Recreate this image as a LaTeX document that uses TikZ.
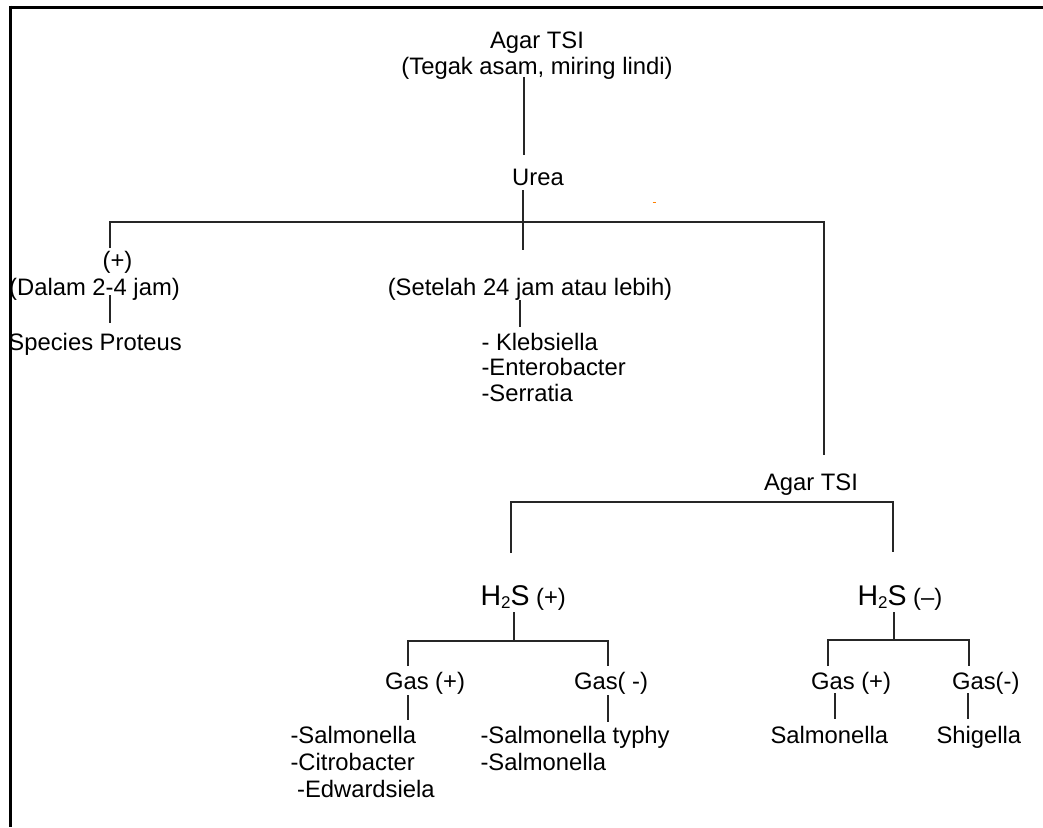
\documentclass[tikz,border=0pt]{standalone}
\usepackage{fontspec}
\setmainfont{Liberation Sans}
\newcommand{\HtwoS}{{\fontsize{28.5}{30}\selectfont H\raisebox{-3.5pt}{\fontsize{17}{17}\selectfont 2}S}}
\begin{document}
\begin{tikzpicture}[x=1pt,y=-1pt,
  txt/.style={inner sep=0pt,outer sep=0pt,font=\fontsize{23.8}{28}\selectfont},
  cl/.style={txt,anchor=base},
  ll/.style={txt,anchor=base west},
  conn/.style={line width=1.2pt,black!85},
  frame/.style={line width=3pt,black}]
\useasboundingbox (0,0) rectangle (1043,827);
% frame
\coordinate (f1) at (9,7);
\coordinate (f2) at (1043,7);
\coordinate (f3) at (10,5.5);
\coordinate (f4) at (10,827);
\draw[frame] (f1) -- (f2);
\draw[frame] (f3) -- (f4);
% texts
\node[cl] (top1) at (537,48) {Agar TSI};
\node[cl] (top2) at (537,74) {(Tegak asam, miring lindi)};
\node[cl] (urea) at (538,185) {Urea};
\node[cl] (plus) at (117.5,268) {(+)};
\node[cl] (dalam) at (94.5,295) {(Dalam 2-4 jam)};
\node[cl] (setelah) at (530,295) {(Setelah 24 jam atau lebih)};
\node[ll] (proteus) at (8.5,350) {Species Proteus};
\node[ll] (kleb) at (481.5,350) {- Klebsiella};
\node[ll] (entero) at (481.5,375) {-Enterobacter};
\node[ll] (serr) at (481.5,401) {-Serratia};
\node[cl] (tsi2) at (811,490) {Agar TSI};
\node[ll] (hsp) at (480.5,605) {\HtwoS\ (+)};
\node[ll] (hsm) at (857.5,605) {\HtwoS\ (--)};
\node[ll] (gp1) at (385,689) {Gas (+)};
\node[ll] (gm1) at (574,689) {Gas( -)};
\node[ll] (gp2) at (811,689) {Gas (+)};
\node[ll] (gm2) at (952,689) {Gas(-)};
\node[ll] (l1a) at (290.5,743) {-Salmonella};
\node[ll] (l1b) at (290.5,770) {-Citrobacter};
\node[ll] (l1c) at (290.5,797) {\ -Edwardsiela};
\node[ll] (l2a) at (480.5,743) {-Salmonella typhy};
\node[ll] (l2b) at (480.5,770) {-Salmonella};
\node[ll] (l3) at (770.5,743) {Salmonella};
\node[ll] (l4) at (936.5,743) {Shigella};
% connector points
\coordinate (a1) at (524,77);   \coordinate (a2) at (524,155);
\coordinate (u1) at (523,190);  \coordinate (u2) at (523,250);
\coordinate (hL) at (110,222);  \coordinate (hR) at (824,222);
\coordinate (pl) at (110,248);
\coordinate (d1) at (110,295);  \coordinate (d2) at (110,323);
\coordinate (s1) at (520,300);  \coordinate (s2) at (520,327);
\coordinate (r2) at (824,455);
\coordinate (tL) at (511,502);  \coordinate (tR) at (893,502);
\coordinate (tL2) at (511,553); \coordinate (tR2) at (893,552);
\coordinate (p1) at (514,612);  \coordinate (p2) at (514,641);
\coordinate (pL) at (408,641);  \coordinate (pR) at (608,641);
\coordinate (pL2) at (408,666); \coordinate (pR2) at (608,666);
\coordinate (g1) at (408,695);  \coordinate (g2) at (408,720);
\coordinate (g3) at (608,695);  \coordinate (g4) at (608,722);
\coordinate (m1) at (894,612);  \coordinate (m2) at (894,640);
\coordinate (mL) at (828,640);  \coordinate (mR) at (969,640);
\coordinate (mL2) at (828,666); \coordinate (mR2) at (969,666);
\coordinate (k1) at (835,693);  \coordinate (k2) at (835,719);
\coordinate (k3) at (968,693);  \coordinate (k4) at (968,719);
% connectors
\draw[conn] (a1) -- (a2);
\draw[conn] (u1) -- (u2);
\draw[conn] (pl) -- (hL) -- (hR) -- (r2);
\draw[conn] (d1) -- (d2);
\draw[conn] (s1) -- (s2);
\draw[conn] (tL2) -- (tL) -- (tR) -- (tR2);
\draw[conn] (p1) -- (p2);
\draw[conn] (pL2) -- (pL) -- (pR) -- (pR2);
\draw[conn] (g1) -- (g2);
\draw[conn] (g3) -- (g4);
\draw[conn] (m1) -- (m2);
\draw[conn] (mL2) -- (mL) -- (mR) -- (mR2);
\draw[conn] (k1) -- (k2);
\draw[conn] (k3) -- (k4);
% stray orange mark
\coordinate (o1) at (652.5,202); \coordinate (o2) at (655.5,202);
\draw[orange,line width=1pt] (o1) -- (o2);
\end{tikzpicture}
\end{document}
